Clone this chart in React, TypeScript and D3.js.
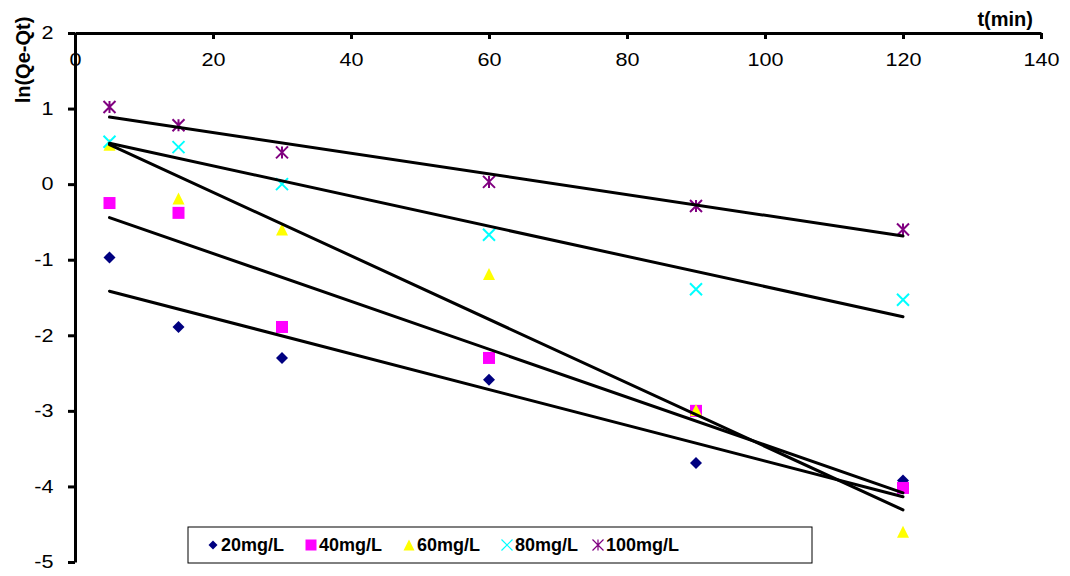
import { useEffect, useRef } from "react"
import * as d3 from "d3"

const times = [5, 15, 30, 60, 90, 120]
const s20 = [-0.97, -1.89, -2.3, -2.59, -3.69, -3.92]
const s40 = [-0.25, -0.38, -1.89, -2.3, -3.0, -4.02]
const s60 = [0.52, -0.19, -0.6, -1.19, -2.99, -4.6]
const s80 = [0.56, 0.49, 0.0, -0.67, -1.39, -1.53]
const s100 = [1.02, 0.78, 0.42, 0.03, -0.29, -0.6]
const seriesNames = ["20mg/L", "40mg/L", "60mg/L", "80mg/L", "100mg/L"]
const xTicks = [0, 20, 40, 60, 80, 100, 120, 140]
const yTicks = [2, 1, 0, -1, -2, -3, -4, -5]

const W = 1070
const H = 576

// least squares trend line
const fit = (xs: number[], ys: number[]) => {
  const mx = d3.mean(xs)!
  const my = d3.mean(ys)!
  let sxy = 0, sxx = 0
  xs.forEach((x, i) => { sxy += (x - mx) * (ys[i] - my); sxx += (x - mx) ** 2 })
  const b = sxy / sxx
  return (x: number) => my + b * (x - mx)
}

const App = () => {
  const svgRef = useRef<SVGSVGElement>(null)

  useEffect(() => {
    const svg = d3.select(svgRef.current)
    svg.selectAll("*").remove()

    const x = d3.scaleLinear().domain([0, 140]).range([75, 1041])
    const y = d3.scaleLinear().domain([2, -5]).range([33, 562])
    const font = "'Liberation Sans', Arial, sans-serif"

    const series = [
      { name: seriesNames[0], vals: s20, color: "#000080", shape: "diamond" },
      { name: seriesNames[1], vals: s40, color: "#ff00ff", shape: "square" },
      { name: seriesNames[2], vals: s60, color: "#ffff00", shape: "triangle" },
      { name: seriesNames[3], vals: s80, color: "#00ffff", shape: "x" },
      { name: seriesNames[4], vals: s100, color: "#800080", shape: "star" },
    ]

    const drawMarker = (g: any, shape: string, color: string, cx: number, cy: number, s: number, sw = 2) => {
      const h = s / 2
      if (shape === "diamond") {
        g.append("path").attr("d", `M${cx},${cy - h}L${cx + h},${cy}L${cx},${cy + h}L${cx - h},${cy}Z`).attr("fill", color)
      } else if (shape === "square") {
        g.append("rect").attr("x", cx - h).attr("y", cy - h).attr("width", s).attr("height", s).attr("fill", color)
      } else if (shape === "triangle") {
        g.append("path").attr("d", `M${cx},${cy - h}L${cx + h},${cy + h}L${cx - h},${cy + h}Z`).attr("fill", color)
      } else if (shape === "x") {
        g.append("path").attr("d", `M${cx - h},${cy - h}L${cx + h},${cy + h}M${cx + h},${cy - h}L${cx - h},${cy + h}`)
          .attr("stroke", color).attr("stroke-width", sw).attr("fill", "none")
      } else {
        g.append("path").attr("d", `M${cx - h},${cy - h}L${cx + h},${cy + h}M${cx + h},${cy - h}L${cx - h},${cy + h}M${cx},${cy - h}L${cx},${cy + h}`)
          .attr("stroke", color).attr("stroke-width", sw).attr("fill", "none")
      }
    }

    const pts = svg.append("g")
    series.forEach(s => {
      s.vals.forEach((v, i) => drawMarker(pts, s.shape, s.color, x(times[i]), y(v), 12))
    })

    series.forEach(s => {
      const f = fit(times, s.vals)
      const x0 = times[0], x1 = times[times.length - 1]
      svg.append("line")
        .attr("x1", x(x0)).attr("y1", y(f(x0)))
        .attr("x2", x(x1)).attr("y2", y(f(x1)))
        .attr("stroke", "black").attr("stroke-width", 3).attr("stroke-linecap", "round")
    })

    // x axis sits on top, labels inside
    const xa = svg.append("g").attr("transform", `translate(0,${y(2)})`)
      .call(d3.axisBottom(x).tickValues(xTicks).tickSize(6).tickPadding(14).tickSizeOuter(0))
    xa.select(".domain").attr("stroke-width", 3)
    xa.selectAll(".tick line").attr("stroke-width", 3)
    xa.selectAll("text").attr("font-family", font).attr("font-size", 18).attr("fill", "black")
      .attr("transform", "scale(1.2,1)")

    const ya = svg.append("g").attr("transform", `translate(${x(0)},0)`)
      .call(d3.axisLeft(y).tickValues(yTicks).tickFormat(d => String(d).replace("−", "-")).tickSize(7).tickPadding(9).tickSizeOuter(0))
    ya.select(".domain").attr("stroke-width", 3)
    ya.selectAll(".tick line").attr("stroke-width", 3)
    ya.selectAll("text").attr("font-family", font).attr("font-size", 18).attr("fill", "black")
      .attr("x", -18).attr("transform", "scale(1.2,1)")

    svg.append("text").attr("x", 1033).attr("y", 26).attr("text-anchor", "end")
      .attr("font-family", font).attr("font-weight", "bold").attr("font-size", 20).text("t(min)")

    svg.append("text").attr("transform", "translate(30,60) rotate(-90)").attr("text-anchor", "middle")
      .attr("font-family", font).attr("font-weight", "bold").attr("font-size", 20).text("ln(Qe-Qt)")

    const lg = svg.append("g")
    lg.append("rect").attr("x", 188).attr("y", 527).attr("width", 624).attr("height", 36)
      .attr("fill", "white").attr("stroke", "black").attr("stroke-width", 1)
    const lx = [213, 311, 409, 507, 598]
    series.forEach((s, i) => {
      drawMarker(lg, s.shape, s.color, lx[i], 545, s.shape === "diamond" ? 9 : 11, 1.2)
      lg.append("text").attr("x", lx[i] + 8).attr("y", 551)
        .attr("font-family", font).attr("font-weight", "bold").attr("font-size", 18).text(s.name)
    })
  }, [])

  return (
    <svg ref={svgRef} width={W} height={H} style={{ position: "absolute", left: 0, top: 0, background: "white" }} />
  )
}

export default App
